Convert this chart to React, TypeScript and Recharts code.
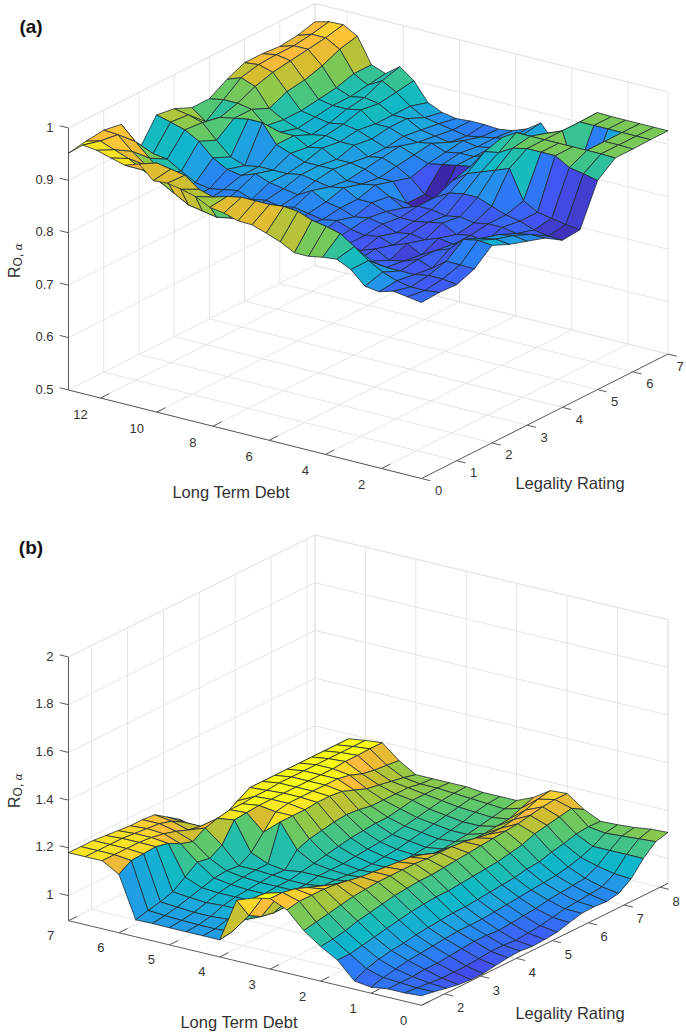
import React from "react";
import { ScatterChart, Scatter, XAxis, YAxis } from "recharts";

const W = 686, H = 1035;

// ---------- data: panel (a), rows = Long Term Debt from high to low, columns = Legality Rating 0..7
const heightsA = [
  [.952,.958,.962,.956,.890,.940,.935,.920,.920,.940,.955,.955,.952,.956,.965],
  [.974,.965,.960,.930,.890,.933,.930,.900,.925,.950,.958,.960,.960,.965,.972],
  [.971,.955,.935,.905,.886,.925,.922,.915,.925,.940,.950,.955,.960,.965,.973],
  [.963,.945,.915,.880,.870,.910,.895,.920,.920,.905,.920,.925,.935,.950,.958],
  [.956,.930,.890,.855,.855,.885,.870,.925,.895,.890,.890,.895,.900,.910,.910],
  [.965,.950,.875,.850,.850,.870,.860,.925,.890,.880,.885,.890,.890,.895,.900],
  [.940,.945,.860,.850,.855,.865,.865,.890,.890,.875,.880,.890,.895,.910,.920],
  [.942,.940,.855,.850,.860,.875,.865,.880,.875,.880,.885,.895,.890,.895,.900],
  [.937,.920,.850,.855,.850,.865,.865,.870,.880,.875,.880,.875,.875,.875,.865],
  [.930,.912,.855,.850,.855,.860,.870,.870,.865,.875,.870,.875,.875,.860,.853],
  [.916,.920,.860,.845,.850,.855,.865,.870,.865,.860,.860,.865,.860,.855,.848],
  [.912,.925,.855,.850,.855,.870,.860,.855,.860,.865,.870,.860,.855,.850,.850],
  [.904,.925,.850,.840,.850,.855,.865,.855,.850,.855,.860,.865,.850,.845,.850],
  [.903,.925,.845,.850,.845,.850,.850,.860,.850,.840,.850,.855,.860,.850,.848],
  [.894,.928,.850,.840,.850,.840,.850,.845,.815,.815,.855,.860,.855,.855,.852],
  [.884,.925,.840,.835,.840,.845,.840,.830,.805,.810,.860,.860,.860,.860,.862],
  [.870,.915,.845,.835,.835,.840,.835,.840,.840,.855,.865,.870,.870,.875,.880],
  [.870,.910,.835,.830,.840,.830,.835,.840,.855,.875,.900,.910,.880,.850,.848],
  [.875,.903,.835,.840,.830,.835,.840,.835,.860,.885,.905,.926,.900,.860,.850],
  [.878,.885,.840,.825,.840,.830,.845,.840,.860,.895,.920,.926,.915,.900,.900],
  [.865,.865,.835,.830,.825,.840,.830,.835,.850,.905,.926,.926,.926,.926,.927],
  [.840,.850,.835,.840,.840,.835,.835,.840,.840,.850,.926,.926,.850,.926,.926],
  [.836,.840,.835,.830,.850,.845,.830,.840,.835,.835,.926,.926,.850,.926,.926],
  [.844,.835,.840,.850,.875,.860,.850,.835,.825,.830,.910,.926,.926,.926,.926],
  [.840,.835,.840,.850,.880,.865,.855,.840,.820,.825,.905,.926,.926,.926,.926],
  [.836,.838,.836,.849,.877,.862,.851,.840,.819,.822,.899,.925,.925,.926,.926],
];
// colour value of the outermost strip of (a), which does not follow its height
const frontStripToneA = [.97,.97,.97,.97,.955,.95,.95,.945,.94,.935,.95,.95,.95,.95,.94,.94,.925,.925,.905,.89,.875,.86,.84,.84,.84];
const debtTicksA = [2, 4, 6, 8, 10, 12];
const legalityTicksA = [0, 1, 2, 3, 4, 5, 6, 7];
const zTicksA = [0.5, 0.6, 0.7, 0.8, 0.9, 1];

// ---------- data: panel (b), rows = Legality Rating from low to high, columns = Long Term Debt from 7 to 0
const heightsB = [
  [1.18,1.18,1.18,1.14,.966,.968,.967,.967,.967,.967,1.15,1.176,1.19,1.16,1.09,1.04,1.00,.93,.92,.93,.93,.935],
  [1.18,1.18,1.18,1.172,.98,.975,.972,.97,.97,.975,1.06,1.17,1.19,1.17,1.10,1.045,1.0,.955,.935,.93,.925,.926],
  [1.18,1.18,1.18,1.175,.99,.985,.98,.98,.985,1.0,1.03,1.13,1.18,1.17,1.11,1.055,1.01,.97,.945,.93,.92,.915],
  [1.175,1.18,1.18,1.179,1.007,1.0,.995,1.0,1.0,1.01,1.02,1.10,1.16,1.17,1.12,1.07,1.02,.98,.955,.935,.915,.905],
  [1.17,1.175,1.175,1.167,1.043,1.015,1.01,1.01,1.01,1.015,1.02,1.07,1.14,1.165,1.13,1.08,1.03,.985,.96,.935,.915,.90],
  [1.165,1.17,1.165,1.14,1.08,1.03,1.02,1.015,1.015,1.02,1.025,1.055,1.12,1.155,1.135,1.09,1.04,.995,.965,.94,.915,.90],
  [1.165,1.165,1.15,1.124,1.07,1.035,1.025,1.02,1.02,1.02,1.03,1.05,1.10,1.145,1.14,1.10,1.05,1.0,.97,.945,.92,.908],
  [1.16,1.15,1.13,1.155,1.10,1.03,1.03,1.025,1.02,1.02,1.03,1.045,1.09,1.14,1.14,1.105,1.055,1.005,.975,.95,.925,.915],
  [1.125,1.12,1.12,1.17,1.18,1.06,1.03,1.02,1.03,1.03,1.03,1.04,1.08,1.135,1.14,1.11,1.06,1.01,.975,.95,.925,.918],
  [1.09,1.06,1.10,1.18,1.185,1.12,1.18,1.08,1.04,1.03,1.025,1.03,1.07,1.13,1.14,1.11,1.06,1.01,.975,.945,.92,.912],
  [1.04,1.01,1.12,1.18,1.19,1.18,1.18,1.10,1.05,1.03,1.02,1.025,1.06,1.125,1.135,1.115,1.065,1.015,.98,.95,.925,.915],
  [1.00,.99,1.15,1.185,1.19,1.19,1.18,1.11,1.06,1.035,1.02,1.02,1.05,1.11,1.135,1.12,1.07,1.02,.985,.955,.93,.92],
  [.98,.98,1.18,1.185,1.19,1.19,1.185,1.12,1.07,1.04,1.025,1.02,1.04,1.09,1.135,1.125,1.075,1.025,.99,.96,.94,.935],
  [.98,1.0,1.18,1.19,1.19,1.19,1.185,1.125,1.075,1.045,1.03,1.025,1.04,1.08,1.13,1.13,1.08,1.03,.995,.97,.95,.948],
  [.98,1.02,1.18,1.19,1.19,1.19,1.18,1.12,1.08,1.05,1.04,1.03,1.04,1.07,1.12,1.135,1.09,1.04,1.0,.975,.955,.95],
  [.98,1.02,1.18,1.19,1.19,1.19,1.16,1.11,1.08,1.06,1.05,1.04,1.045,1.07,1.11,1.14,1.10,1.045,1.005,.98,.96,.946],
  [.98,1.02,1.18,1.19,1.19,1.18,1.14,1.11,1.09,1.07,1.06,1.05,1.05,1.07,1.11,1.145,1.12,1.06,1.015,.985,.965,.955],
  [.98,1.02,1.18,1.19,1.195,1.16,1.13,1.11,1.10,1.08,1.07,1.06,1.06,1.075,1.12,1.155,1.13,1.07,1.03,1.01,.995,.99],
  [.98,1.02,1.18,1.19,1.195,1.15,1.12,1.11,1.10,1.09,1.08,1.075,1.07,1.08,1.135,1.165,1.14,1.085,1.05,1.05,1.05,1.05],
  [.98,1.02,1.18,1.19,1.197,1.145,1.11,1.10,1.10,1.095,1.09,1.085,1.08,1.10,1.155,1.17,1.15,1.09,1.08,1.085,1.09,1.095],
  [.98,1.02,1.18,1.19,1.197,1.139,1.097,1.097,1.097,1.097,1.09,1.09,1.09,1.12,1.165,1.17,1.12,1.087,1.09,1.095,1.105,1.108],
];
const debtTicksB = [0, 1, 2, 3, 4, 5, 6, 7];
const legalityTicksB = [2, 3, 4, 5, 6, 7, 8];
const zTicksB = [1, 1.2, 1.4, 1.6, 1.8, 2];

// ---------- colour map
const stops: [number, number[]][] = [
  [0, [62, 38, 168]], [.11, [67, 83, 245]], [.22, [42, 128, 245]], [.33, [30, 164, 224]],
  [.44, [12, 184, 200]], [.55, [44, 192, 160]], [.65, [95, 200, 106]], [.75, [160, 200, 64]],
  [.83, [216, 188, 48]], [.9, [253, 187, 60]], [.96, [248, 220, 40]], [1, [249, 251, 21]],
];
function parula(t: number) {
  const v = Math.max(0, Math.min(1, t));
  for (let k = 1; k < stops.length; k++) {
    if (v <= stops[k][0]) {
      const [a, ca] = stops[k - 1], [b, cb] = stops[k];
      const f = (v - a) / (b - a);
      return `rgb(${ca.map((c, n) => Math.round(c + (cb[n] - c) * f)).join(",")})`;
    }
  }
  return "rgb(249,251,21)";
}

// ---------- box geometry of each panel
type Box = {
  left: number[]; front: number[]; right: number[]; top: number;
  zMin: number; zMax: number; debt: number[]; legal: number[];
};
const boxA: Box = { left: [68.5, 390], front: [421.5, 478.5], right: [668, 354], top: 128, zMin: .5, zMax: 1, debt: [13.14, .58], legal: [0, 7] };
const boxB: Box = { left: [68.5, 920.7], front: [421.5, 1005.3], right: [668, 883.3], top: 657, zMin: .895, zMax: 2, debt: [7, 0], legal: [1.36, 8.22] };

function project(b: Box, u: number, v: number, z: number) {
  const ux = b.front[0] - b.left[0], uy = b.front[1] - b.left[1];
  const vx = b.right[0] - b.front[0], vy = b.right[1] - b.front[1];
  const k = (b.left[1] - b.top) / (b.zMax - b.zMin);
  return { x: b.left[0] + ux * u + vx * v, y: b.left[1] + uy * u + vy * v - (z - b.zMin) * k };
}
const uOf = (b: Box, d: number) => (d - b.debt[0]) / (b.debt[1] - b.debt[0]);
const vOf = (b: Box, l: number) => (l - b.legal[0]) / (b.legal[1] - b.legal[0]);

type Facet = { x: number; y: number; pts: { x: number; y: number }[]; fill: string };
function facets(b: Box, get: (i: number, j: number) => number, ni: number, nj: number, tone: (i: number, j: number) => number): Facet[] {
  const out: Facet[] = [];
  for (let i = 0; i < ni - 1; i++) {
    for (let j = nj - 2; j >= 0; j--) {
      const pts = ([[i, j], [i + 1, j], [i + 1, j + 1], [i, j + 1]] as number[][]).map(([a, c]) =>
        project(b, a / (ni - 1), c / (nj - 1), get(a, c)));
      out.push({
        x: pts.reduce((s, p) => s + p.x, 0) / 4,
        y: pts.reduce((s, p) => s + p.y, 0) / 4,
        pts, fill: parula(tone(i, j)),
      });
    }
  }
  return out;
}

const getA = (i: number, j: number) => heightsA[i][j];
const getB = (i: number, j: number) => heightsB[j][i];
const facetsA = facets(boxA, getA, 26, 15, (i, j) =>
  ((j === 0 ? frontStripToneA[i] : (getA(i, j) * 3 + getA(i + 1, j)) / 4) - .815) / .16);
const facetsB = facets(boxB, getB, 22, 21, (i, j) => ((getB(i + 1, j) * 3 + getB(i + 1, j + 1)) / 4 - .87) / .32);

type Seg = { x: number; y: number; a: { x: number; y: number }; b: { x: number; y: number }; stroke: string };
const seg = (a: { x: number; y: number }, b: { x: number; y: number }, stroke: string): Seg =>
  ({ x: (a.x + b.x) / 2, y: (a.y + b.y) / 2, a, b, stroke });

function frame(b: Box, dt: number[], lt: number[], zt: number[]) {
  const g: Seg[] = [], ax: Seg[] = [];
  const grid = "#e4e4e4", dark = "#5a5a5a";
  const P = (u: number, v: number, z: number) => project(b, u, v, z);
  for (const d of dt) {
    const u = uOf(b, d);
    g.push(seg(P(u, 0, b.zMin), P(u, 1, b.zMin), grid));
    g.push(seg(P(u, 1, b.zMin), P(u, 1, b.zMax), grid));
  }
  for (const l of lt) {
    const v = vOf(b, l);
    g.push(seg(P(0, v, b.zMin), P(1, v, b.zMin), grid));
    g.push(seg(P(0, v, b.zMin), P(0, v, b.zMax), grid));
  }
  for (const z of zt) {
    g.push(seg(P(0, 0, z), P(0, 1, z), grid));
    g.push(seg(P(0, 1, z), P(1, 1, z), grid));
  }
  g.push(seg(P(0, 1, b.zMin), P(0, 1, b.zMax), grid));
  g.push(seg(P(0, 0, b.zMax), P(0, 1, b.zMax), grid));
  g.push(seg(P(0, 1, b.zMax), P(1, 1, b.zMax), grid));
  g.push(seg(P(1, 1, b.zMin), P(1, 1, b.zMax), grid));
  ax.push(seg(P(0, 0, b.zMin), P(0, 0, b.zMax), dark));
  ax.push(seg(P(0, 0, b.zMin), P(1, 0, b.zMin), dark));
  ax.push(seg(P(1, 0, b.zMin), P(1, 1, b.zMin), dark));
  for (const d of dt) {
    const u = uOf(b, d);
    ax.push(seg(P(u, 0, b.zMin), P(u, .035, b.zMin), dark));
  }
  for (const l of lt) {
    const v = vOf(b, l);
    ax.push(seg(P(1, v, b.zMin), P(1.025, v, b.zMin), dark));
  }
  for (const z of zt) ax.push(seg(P(0, 0, z), P(-.025, 0, z), dark));
  return { g, ax };
}
const frameA = frame(boxA, debtTicksA, legalityTicksA, zTicksA);
const frameB = frame(boxB, debtTicksB, legalityTicksB, zTicksB);
const fmt = (n: number) => (Number.isInteger(n) ? String(n) : n.toFixed(1));

type Lab = { x: number; y: number; t: string; size?: number; bold?: boolean; anchor?: string };
function tickLabels(b: Box, dt: number[], lt: number[], zt: number[], dOff: number[], lOff: number[]): Lab[] {
  const out: Lab[] = [];
  for (const d of dt) {
    const p = project(b, uOf(b, d), 0, b.zMin);
    out.push({ x: p.x + dOff[0], y: p.y + dOff[1], t: fmt(d) });
  }
  for (const l of lt) {
    const p = project(b, 1, vOf(b, l), b.zMin);
    out.push({ x: Math.min(p.x + lOff[0], W - 6), y: p.y + lOff[1], t: fmt(l) });
  }
  for (const z of zt) {
    const p = project(b, 0, 0, z);
    out.push({ x: p.x - 15, y: p.y - 1, t: fmt(z), anchor: "end" });
  }
  return out;
}
const labels: Lab[] = [
  ...tickLabels(boxA, debtTicksA, legalityTicksA, zTicksA, [-20, 16], [17, 12]),
  ...tickLabels(boxB, debtTicksB, legalityTicksB, zTicksB, [-18, 15], [16, 14]),
  { x: 231, y: 492, t: "Long Term Debt", size: 16.5 },
  { x: 570, y: 483, t: "Legality Rating", size: 16.5 },
  { x: 239, y: 1022, t: "Long Term Debt", size: 16.5 },
  { x: 570, y: 1013, t: "Legality Rating", size: 16.5 },
  { x: 31, y: 26, t: "(a)", size: 19, bold: true },
  { x: 31, y: 547, t: "(b)", size: 19, bold: true },
];
const rLabels = [{ x: 14, y: 278 }, { x: 14, y: 808 }];

const FONT = "'Liberation Sans', Arial, sans-serif";
const FacetShape = (p: any) => {
  const d: Facet = p.payload;
  const pts = d.pts.map((q) => `${p.cx + q.x - d.x},${p.cy + q.y - d.y}`).join(" ");
  return <polygon points={pts} fill={d.fill} stroke="#1d2a30" strokeWidth={0.8} strokeLinejoin="round" />;
};
const SegShape = (p: any) => {
  const d: Seg = p.payload;
  return <line x1={p.cx + d.a.x - d.x} y1={p.cy + d.a.y - d.y} x2={p.cx + d.b.x - d.x} y2={p.cy + d.b.y - d.y} stroke={d.stroke} strokeWidth={1} />;
};
const LabelShape = (p: any) => {
  const d: Lab = p.payload;
  return (
    <text x={p.cx} y={p.cy} textAnchor={(d.anchor as any) || "middle"} dominantBaseline="central"
      fontFamily={FONT} fontSize={d.size || 13} fontWeight={d.bold ? 700 : 400} fill={d.bold ? "#111" : "#333"}>
      {d.t}
    </text>
  );
};
const RShape = (p: any) => (
  <text transform={`translate(${p.cx},${p.cy}) rotate(-90)`} fontFamily={FONT} fontSize={16} fill="#333" dominantBaseline="central">
    R<tspan fontSize={12} dy={4}>O, </tspan><tspan fontSize={11} fontStyle="italic" fontFamily="'DejaVu Serif', serif">α</tspan>
  </text>
);

export default function App() {
  return (
    <div style={{ position: "absolute", left: 0, top: 0, width: W, height: H, background: "#fff" }}>
      <ScatterChart width={W} height={H} margin={{ top: 0, right: 0, bottom: 0, left: 0 }}>
        <XAxis type="number" dataKey="x" domain={[0, W]} hide allowDataOverflow />
        <YAxis type="number" dataKey="y" domain={[0, H]} reversed hide allowDataOverflow />
        <Scatter data={[...frameA.g, ...frameB.g]} shape={SegShape} isAnimationActive={false} />
        <Scatter data={frameA.ax} shape={SegShape} isAnimationActive={false} />
        <Scatter data={frameB.ax} shape={SegShape} isAnimationActive={false} />
        <Scatter data={facetsA} shape={FacetShape} isAnimationActive={false} />
        <Scatter data={facetsB} shape={FacetShape} isAnimationActive={false} />
        <Scatter data={labels} shape={LabelShape} isAnimationActive={false} />
        <Scatter data={rLabels} shape={RShape} isAnimationActive={false} />
      </ScatterChart>
    </div>
  );
}
